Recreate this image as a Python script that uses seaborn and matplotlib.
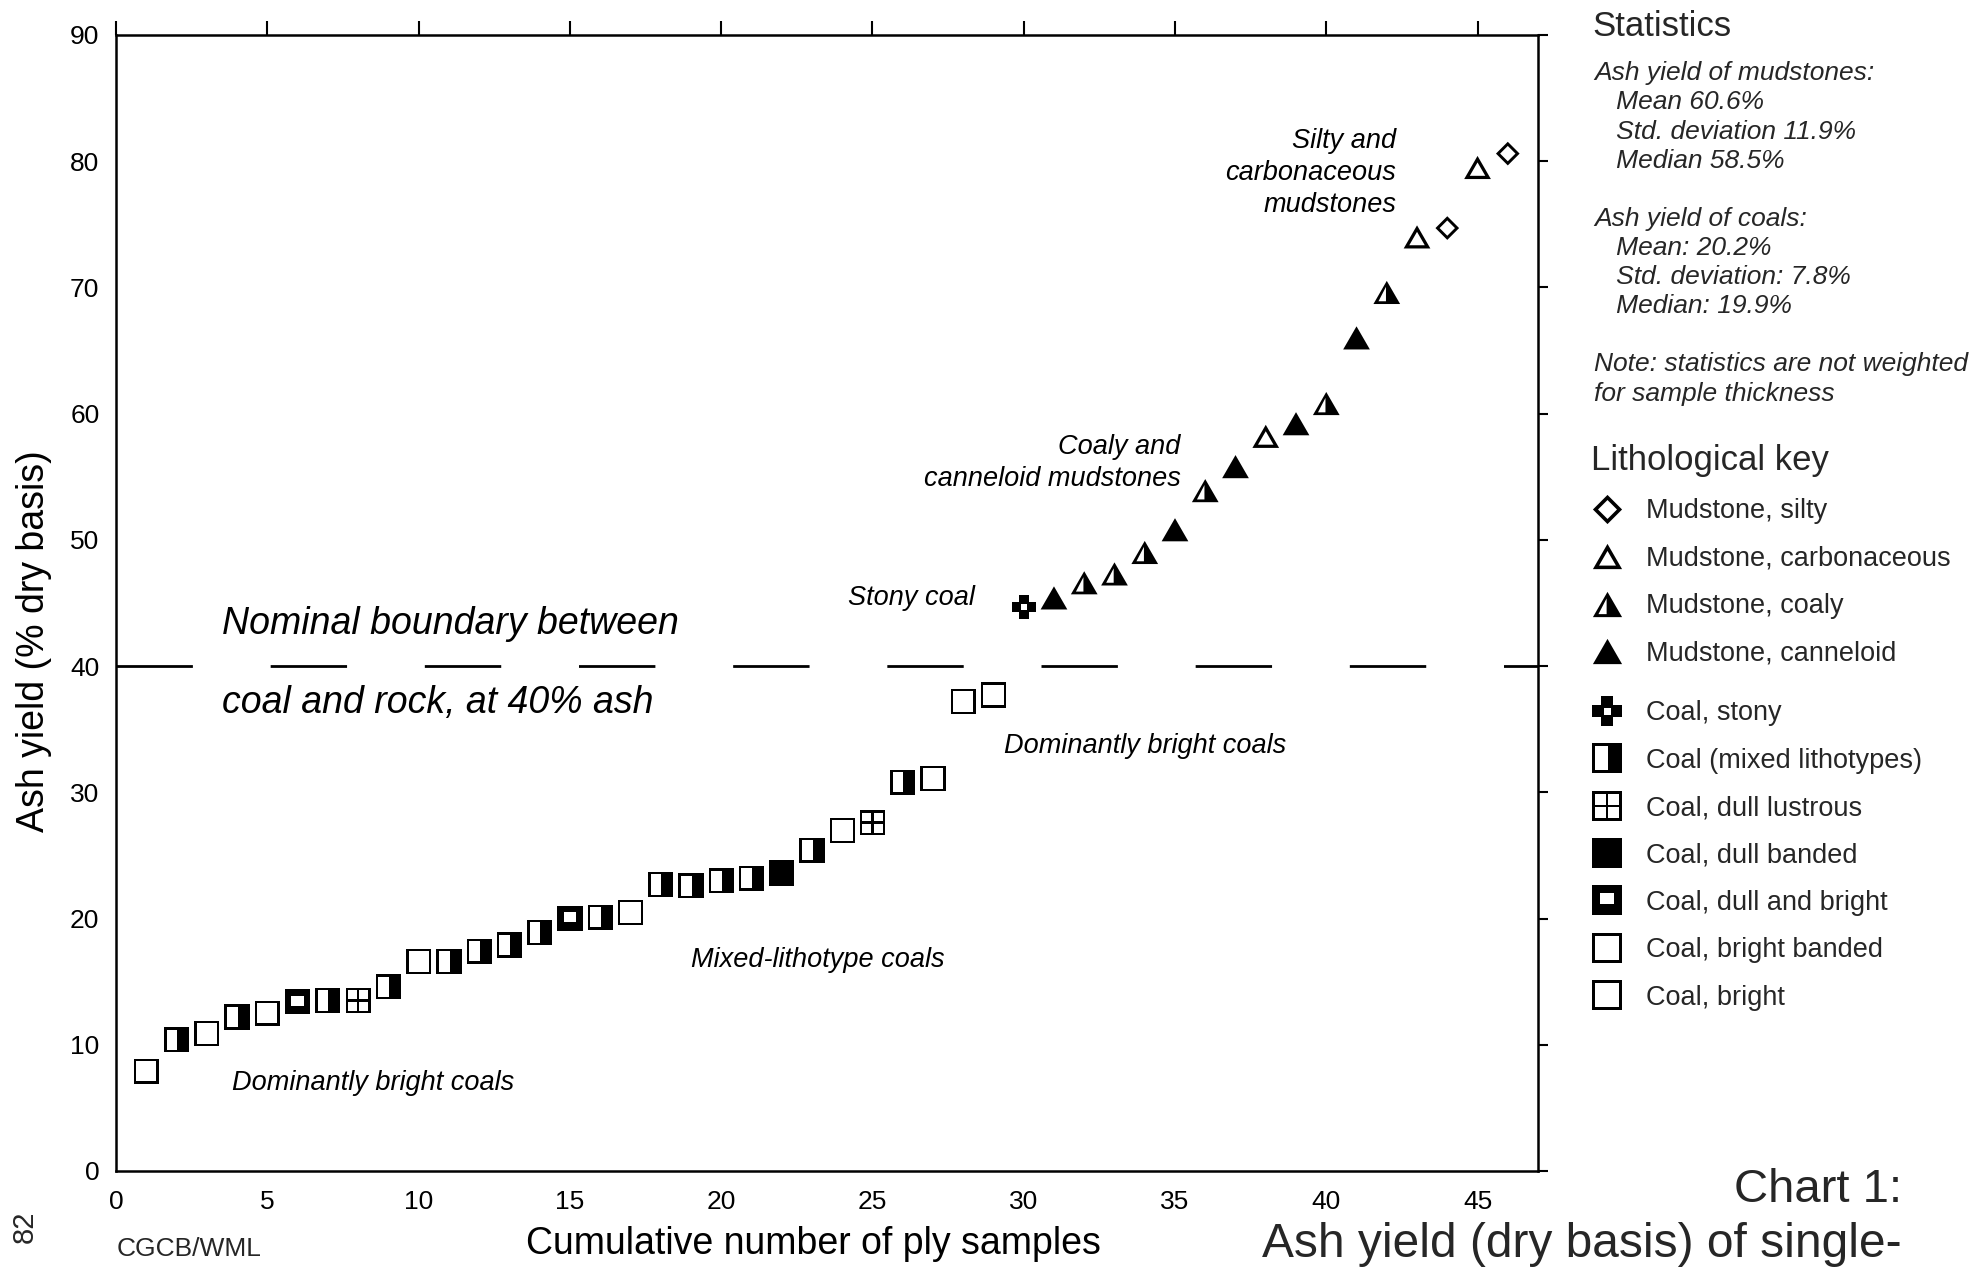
import matplotlib
matplotlib.use("Agg")
import matplotlib.pyplot as plt
from matplotlib.path import Path
from matplotlib.lines import Line2D
import pandas as pd
import seaborn as sns

# datos
sample_no = list(range(1, 47))
ash_yield = [7.9, 10.4, 10.9, 12.2, 12.5, 13.4, 13.5, 13.5, 14.6, 16.6,
             16.6, 17.4, 17.9, 18.9, 20.0, 20.1, 20.5, 22.7, 22.6, 23.0,
             23.2, 23.6, 25.4, 27.0, 27.6, 30.8, 31.1, 37.2, 37.7, 44.7,
             45.4, 46.6, 47.3, 49.0, 50.8, 53.9, 55.8, 58.2, 59.2, 60.8,
             66.0, 69.6, 74.0, 74.7, 79.5, 80.6]
lithology = ["Coal, bright", "Coal (mixed lithotypes)", "Coal, bright banded",
             "Coal (mixed lithotypes)", "Coal, bright", "Coal, dull and bright",
             "Coal (mixed lithotypes)", "Coal, dull lustrous", "Coal (mixed lithotypes)",
             "Coal, bright", "Coal (mixed lithotypes)", "Coal (mixed lithotypes)",
             "Coal (mixed lithotypes)", "Coal (mixed lithotypes)", "Coal, dull and bright",
             "Coal (mixed lithotypes)", "Coal, bright banded", "Coal (mixed lithotypes)",
             "Coal (mixed lithotypes)", "Coal (mixed lithotypes)", "Coal (mixed lithotypes)",
             "Coal, dull banded", "Coal (mixed lithotypes)", "Coal, bright banded",
             "Coal, dull lustrous", "Coal (mixed lithotypes)", "Coal, bright",
             "Coal, bright", "Coal, bright", "Coal, stony",
             "Mudstone, canneloid", "Mudstone, coaly", "Mudstone, coaly",
             "Mudstone, coaly", "Mudstone, canneloid", "Mudstone, coaly",
             "Mudstone, canneloid", "Mudstone, carbonaceous", "Mudstone, canneloid",
             "Mudstone, coaly", "Mudstone, canneloid", "Mudstone, coaly",
             "Mudstone, carbonaceous", "Mudstone, silty", "Mudstone, carbonaceous",
             "Mudstone, silty"]

mudstone_key = ["Mudstone, silty", "Mudstone, carbonaceous", "Mudstone, coaly",
                "Mudstone, canneloid"]
coal_key = ["Coal, stony", "Coal (mixed lithotypes)", "Coal, dull lustrous",
            "Coal, dull banded", "Coal, dull and bright", "Coal, bright banded",
            "Coal, bright"]

boundary = 40
x_ticks = [0, 5, 10, 15, 20, 25, 30, 35, 40, 45]
y_ticks = [0, 10, 20, 30, 40, 50, 60, 70, 80, 90]

stats_lines = ["Ash yield of mudstones:", "   Mean 60.6%", "   Std. deviation 11.9%",
               "   Median 58.5%", "", "Ash yield of coals:", "   Mean: 20.2%",
               "   Std. deviation: 7.8%", "   Median: 19.9%", "",
               "Note: statistics are not weighted", "for sample thickness"]


# --- marcadores hechos a mano (con huecos) ---
def ring(pts, reverse=False):
    pts = list(pts)[::-1] if reverse else list(pts)
    return pts + [pts[0]], [Path.MOVETO] + [Path.LINETO] * (len(pts) - 1) + [Path.CLOSEPOLY]


def marker(outer, holes=()):
    verts, codes = ring(outer)
    for h in holes:
        v, c = ring(h, reverse=True)
        verts += v
        codes += c
    return Path(verts, codes)


def rect(x0, y0, x1, y1):
    return [(x0, y0), (x1, y0), (x1, y1), (x0, y1)]


def scale(pts, k, cx=0.0, cy=0.0):
    return [(cx + (x - cx) * k, cy + (y - cy) * k) for x, y in pts]


sq = rect(-1, -1, 1, 1)
tri = [(-1, -0.866), (1, -0.866), (0, 0.866)]
dia = [(0, -1), (1, 0), (0, 1), (-1, 0)]
a = 0.42
plus = [(-a, -1), (a, -1), (a, -a), (1, -a), (1, a), (a, a), (a, 1), (-a, 1),
        (-a, a), (-1, a), (-1, -a), (-a, -a)]

marker_map = {
    "Mudstone, silty": marker(dia, [scale(dia, 0.65)]),
    "Mudstone, carbonaceous": marker(tri, [scale(tri, 0.58, 0, -0.289)]),
    "Mudstone, coaly": marker(tri, [[(-0.62, -0.66), (-0.06, -0.66), (-0.06, 0.42)]]),
    "Mudstone, canneloid": marker(tri),
    "Coal, stony": marker(plus, [rect(-0.24, -0.24, 0.24, 0.24)]),
    "Coal (mixed lithotypes)": marker(sq, [rect(-0.8, -0.8, 0.05, 0.8)]),
    "Coal, dull lustrous": marker(sq, [rect(-0.8, 0.1, -0.1, 0.8), rect(0.1, 0.1, 0.8, 0.8),
                                       rect(-0.8, -0.8, -0.1, -0.1), rect(0.1, -0.8, 0.8, -0.1)]),
    "Coal, dull banded": marker(sq),
    "Coal, dull and bright": marker(sq, [rect(-0.5, -0.3, 0.5, 0.5)]),
    "Coal, bright banded": marker(sq, [rect(-0.82, -0.82, 0.82, 0.82)]),
    "Coal, bright": marker(sq, [rect(-0.8, -0.8, 0.8, 0.8)]),
}
size_map = {k: 330 for k in marker_map}
size_map.update({"Mudstone, silty": 290, "Coal, stony": 290,
                 "Mudstone, carbonaceous": 370, "Mudstone, coaly": 370,
                 "Mudstone, canneloid": 370})

# --- estilo ---
sns.set_theme(style="white")
plt.rcParams["font.family"] = ["Liberation Sans", "DejaVu Sans"]

df = pd.DataFrame({"sample": sample_no, "ash": ash_yield, "lithology": lithology})

fig = plt.figure(figsize=(19.81, 12.71), dpi=100, facecolor="white")
ax = fig.add_axes([0.0586, 0.0787, 0.7178, 0.8938])

ax.axhline(boundary, color="black", lw=2, linestyle=(0, (27.5, 28)), zorder=1)
sns.scatterplot(data=df, x="sample", y="ash", style="lithology", markers=marker_map,
                size="lithology", sizes=size_map, color="black", linewidth=0,
                legend=False, ax=ax, zorder=3)

ax.set_xlim(0, 47)
ax.set_ylim(0, 90)
ax.set_xticks(x_ticks)
ax.set_yticks(y_ticks)
ax.tick_params(axis="x", direction="out", top=True, length=10, width=1.5, pad=4,
               labelsize=19, colors="black")
ax.tick_params(axis="y", direction="out", right=True, length=7, width=1.5, pad=5,
               labelsize=19, colors="black")
for s in ax.spines.values():
    s.set_color("black")
    s.set_linewidth(1.8)

ax.set_xlabel("Cumulative number of ply samples", fontsize=27, color="black")
ax.set_ylabel("Ash yield (% dry basis)", fontsize=27, color="black")
ax.xaxis.set_label_coords(0.4907, -0.0486)
ax.yaxis.set_label_coords(-0.045, 0.466)

# --- anotaciones ---
it = dict(style="italic", color="black")
ax.text(3.5, 43.3, "Nominal boundary between", fontsize=27, va="center", **it)
ax.text(3.5, 37.1, "coal and rock, at 40% ash", fontsize=27, va="center", **it)
ax.text(28.4, 45.4, "Stony coal", fontsize=19.5, ha="right", va="center", **it)
ax.text(3.84, 7.0, "Dominantly bright coals", fontsize=19.5, va="center", **it)
ax.text(19.0, 16.7, "Mixed-lithotype coals", fontsize=19.5, va="center", **it)
ax.text(29.34, 33.7, "Dominantly bright coals", fontsize=19.5, va="center", **it)
ax.text(35.18, 56.1, "Coaly and\ncanneloid mudstones", fontsize=19.5, ha="right",
        va="center", multialignment="right", linespacing=1.3, **it)
ax.text(42.32, 79.1, "Silty and\ncarbonaceous\nmudstones", fontsize=19.5, ha="right",
        va="center", multialignment="right", linespacing=1.3, **it)

# --- estadisticas ---
fig.text(0.8036, 0.979, "Statistics", fontsize=25, va="center")
y = 0.9423
for line in stats_lines:
    if line:
        fig.text(0.8047, y, line, fontsize=19, va="center", style="italic")
    y -= 0.0229

# --- clave litologica ---
def handle(name):
    return Line2D([], [], marker=marker_map[name], color="black", linestyle="None",
                  markersize=21, markeredgewidth=0)


fig.legend([handle(n) for n in mudstone_key], mudstone_key, title="Lithological key",
           title_fontsize=25, fontsize=19.5, alignment="left", frameon=False,
           loc="upper left", bbox_to_anchor=(0.803, 0.6506), borderpad=0, borderaxespad=0,
           handlelength=1.2, handletextpad=0.85, labelspacing=0.79)
fig.legend([handle(n) for n in coal_key], coal_key, fontsize=19.5, frameon=False,
           loc="upper left", bbox_to_anchor=(0.803, 0.449), borderpad=0, borderaxespad=0,
           handlelength=1.2, handletextpad=0.85, labelspacing=0.79)

# --- pie ---
fig.text(0.96, 0.064, "Chart 1:", fontsize=34, ha="right", va="center")
fig.text(0.96, 0.021, "Ash yield (dry basis) of single-", fontsize=34.5, ha="right", va="center")
fig.text(0.059, 0.0173, "CGCB/WML", fontsize=19, va="center")
fig.text(0.0126, 0.0346, "82", fontsize=21, rotation=90, ha="center", va="center")

fig.savefig("out.png", dpi=100, facecolor="white")
